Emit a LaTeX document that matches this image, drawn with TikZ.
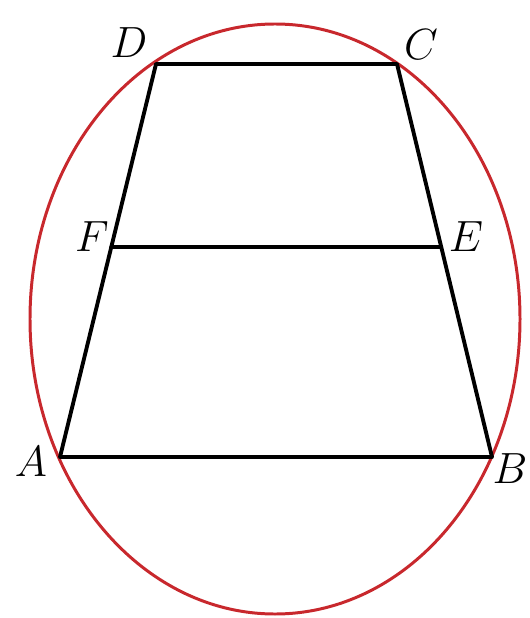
\documentclass[tikz,border=0pt]{standalone}
\usepackage{amsmath,amssymb}
\usepackage{xcolor}
\usepackage{tikz}
\usetikzlibrary{positioning, calc}

\definecolor{circred}{RGB}{200,40,45}

\begin{document}
\begin{tikzpicture}[
  x=0.02cm, y=-0.02cm,
  font=\fontsize{25}{26}\selectfont,
  seg/.style={draw=black, line width=2.2pt, line cap=round, line join=round},
  circ/.style={draw=circred, line width=1.7pt},
  lbl/.style={inner sep=0pt},
]
\useasboundingbox (0,0) rectangle (529,618);

\coordinate (A) at (60,457);
\coordinate (B) at (492,457);
\coordinate (C) at (397,64);
\coordinate (D) at (156,64);
\coordinate (F) at ($(A)!0.535!(D)$);
\coordinate (E) at ($(B)!0.535!(C)$);

\draw[circ] (275,319) ellipse [x radius=245, y radius=295];

\draw[seg] (A) -- (B) -- (C) -- (D) -- cycle;
\draw[seg] (F) -- (E);

\node[lbl] (lA) at (31,462)  {$A$};
\node[lbl] (lB) at (510,469) {$B$};
\node[lbl] (lC) at (421,45)  {$C$};
\node[lbl] (lD) at (129,43)  {$D$};
\node[lbl] (lE) at (466,237) {$E$};
\node[lbl] (lF) at (92,237)  {$F$};

\end{tikzpicture}
\end{document}
